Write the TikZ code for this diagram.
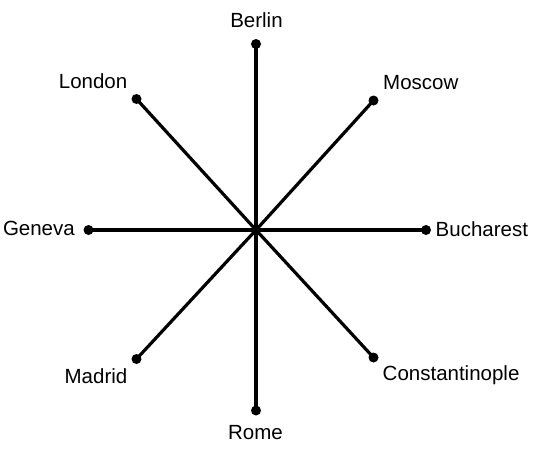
\documentclass[tikz,border=0pt]{standalone}
\usepackage{fontspec}
\setmainfont{Liberation Sans}
\begin{document}
\begin{tikzpicture}[x=1pt,y=-1pt,
  spoke/.style={line width=3.2pt},
  enddot/.style={circle,fill=black,inner sep=0pt,minimum size=10pt},
  city/.style={inner sep=0pt,font=\fontsize{20.5}{24}\selectfont}]
\useasboundingbox (0,0) rectangle (535,450);
\coordinate (c) at (256,230);
\node[enddot] (berlin) at (256,44) {};
\node[enddot] (rome) at (256,410.5) {};
\node[enddot] (geneva) at (88.5,230) {};
\node[enddot] (bucharest) at (426,230) {};
\node[enddot] (london) at (136.5,99) {};
\node[enddot] (moscow) at (373.5,100.5) {};
\node[enddot] (madrid) at (136.5,359) {};
\node[enddot] (constantinople) at (373.5,357.5) {};
\foreach \n in {berlin,rome,geneva,bucharest,london,moscow,madrid,constantinople}
  \draw[spoke] (c) -- (\n.center);
\node[city,anchor=base] (lberlin) at (256.5,27) {Berlin};
\node[city,anchor=base] (lrome) at (255.5,439.3) {Rome};
\node[city,anchor=base east] (lgeneva) at (75,235.7) {Geneva};
\node[city,anchor=base west] (lbucharest) at (435.5,236.7) {Bucharest};
\node[city,anchor=base west] (lmoscow) at (383,89.3) {Moscow};
\node[city,anchor=base east] (llondon) at (127.5,88.3) {London};
\node[city,anchor=base east] (lmadrid) at (127.5,383.3) {Madrid};
\node[city,anchor=base west] (lconst) at (382.5,380) {Constantinople};
\end{tikzpicture}
\end{document}
